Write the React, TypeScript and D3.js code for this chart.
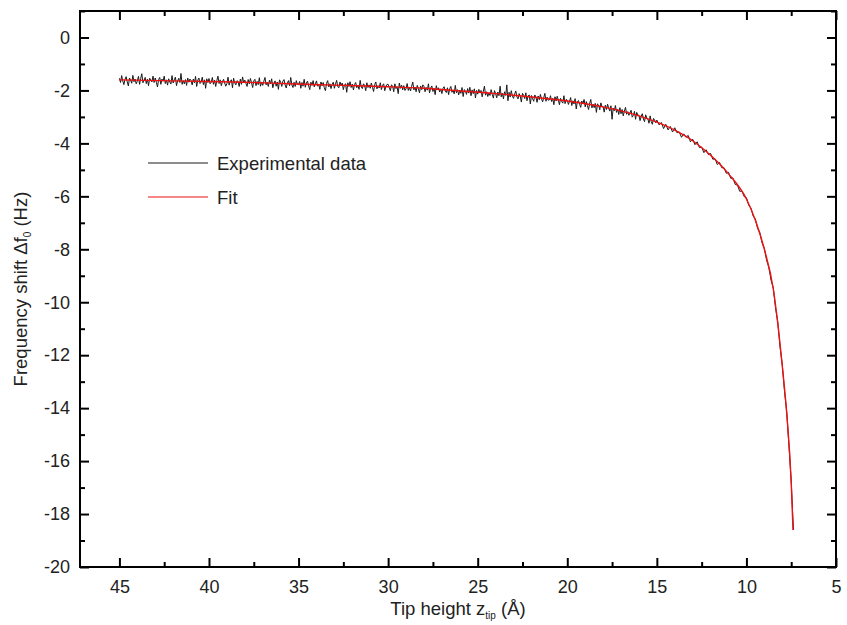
import React, { useEffect, useRef } from 'react';
import * as d3 from 'd3';

// Experimental data, first part sampled every 0.0625 Å from 45 Å down to 15.0625 Å
const expAStart = 45;
const expAStep = 0.0625;
const expAY = [
  -1.54, -1.70, -1.44, -1.64, -1.78, -1.58, -1.48, -1.68, -1.83, -1.53, -1.61, -1.73, -1.43, -1.67, -1.57, -1.75,
  -1.65, -1.47, -1.77, -1.55, -1.37, -1.71, -1.63, -1.51, -1.74, -1.58, -1.82, -1.54, -1.60, -1.68, -1.46, -1.70,
  -1.53, -1.69, -1.87, -1.59, -1.51, -1.77, -1.57, -1.65, -1.46, -1.74, -1.60, -1.80, -1.56, -1.68, -1.76, -1.44,
  -1.72, -1.60, -1.50, -1.82, -1.64, -1.54, -1.70, -1.36, -1.77, -1.63, -1.75, -1.59, -1.81, -1.53, -1.69, -1.57,
  -1.63, -1.79, -1.57, -1.71, -1.47, -1.85, -1.61, -1.53, -1.74, -1.68, -1.50, -1.78, -1.60, -1.92, -1.56, -1.70,
  -1.55, -1.75, -1.69, -1.51, -1.77, -1.61, -1.85, -1.63, -1.46, -1.74, -1.60, -1.82, -1.68, -1.58, -1.72, -1.84,
  -1.74, -1.50, -1.80, -1.64, -1.60, -1.90, -1.54, -1.72, -1.79, -1.63, -1.67, -1.85, -1.57, -1.77, -1.49, -1.71,
  -1.61, -1.73, -1.85, -1.59, -1.75, -1.55, -1.71, -1.89, -1.64, -1.58, -1.82, -1.66, -1.78, -1.52, -1.84, -1.68,
  -1.81, -1.65, -1.51, -1.79, -1.69, -1.85, -1.61, -1.75, -1.56, -1.90, -1.74, -1.64, -1.84, -1.68, -1.96, -1.60,
  -1.69, -1.85, -1.65, -1.59, -1.79, -1.91, -1.71, -1.63, -1.83, -1.51, -1.79, -1.89, -1.69, -1.85, -1.63, -1.77,
  -1.78, -1.66, -1.92, -1.70, -1.84, -1.58, -1.88, -1.72, -1.65, -1.83, -1.97, -1.69, -1.81, -1.63, -1.87, -1.75,
  -1.64, -1.84, -1.76, -1.96, -1.68, -1.82, -1.70, -1.90, -2.01, -1.73, -1.63, -1.87, -1.75, -1.93, -1.77, -1.69,
  -1.92, -1.76, -1.62, -1.86, -1.90, -1.68, -1.82, -1.72, -1.97, -1.79, -1.75, -2.07, -1.71, -1.85, -1.67, -1.89,
  -1.76, -1.98, -1.78, -1.70, -1.90, -1.80, -1.96, -1.62, -1.87, -1.93, -1.75, -1.81, -2.01, -1.71, -1.89, -1.79,
  -1.92, -1.72, -1.88, -2.04, -1.78, -1.68, -1.94, -1.82, -1.91, -1.71, -1.97, -1.81, -1.75, -2.01, -1.85, -1.77,
  -1.77, -1.89, -2.01, -1.79, -1.83, -2.05, -1.75, -1.93, -1.86, -2.12, -1.72, -1.92, -1.80, -1.98, -1.82, -2.00,
  -1.94, -1.74, -2.00, -1.88, -2.02, -1.84, -1.68, -1.98, -1.87, -2.05, -1.81, -1.93, -2.09, -1.83, -1.97, -1.79,
  -1.85, -2.05, -1.89, -1.99, -1.75, -2.09, -1.91, -1.83, -2.04, -1.92, -2.16, -1.82, -1.98, -1.90, -2.06, -1.94,
  -2.12, -1.92, -1.86, -2.02, -2.08, -1.90, -2.16, -1.94, -1.85, -2.07, -1.99, -2.13, -1.81, -2.09, -1.97, -2.17,
  -1.99, -2.11, -1.89, -2.23, -1.97, -2.01, -2.15, -1.93, -2.10, -1.88, -2.20, -1.98, -2.12, -1.94, -2.28, -2.00,
  -2.14, -1.96, -2.10, -2.00, -2.24, -2.04, -1.84, -2.18, -2.05, -2.23, -2.09, -2.19, -1.97, -2.15, -2.29, -2.01,
  -2.12, -2.28, -2.06, -2.20, -1.84, -2.24, -2.10, -2.32, -2.05, -2.19, -1.79, -2.39, -2.07, -2.25, -2.01, -2.21,
  -2.30, -2.14, -2.02, -2.24, -2.32, -2.12, -2.22, -2.44, -2.11, -2.19, -2.31, -2.09, -2.39, -2.21, -2.17, -2.51,
  -2.19, -2.31, -2.41, -2.17, -2.25, -2.45, -2.21, -2.35, -2.15, -2.33, -2.43, -2.27, -2.11, -2.41, -2.25, -2.37,
  -2.36, -2.20, -2.42, -2.30, -2.54, -2.24, -2.40, -2.22, -2.36, -2.54, -2.30, -2.42, -2.48, -2.20, -2.50, -2.34,
  -2.37, -2.53, -2.41, -2.27, -2.57, -2.39, -2.51, -2.31, -2.70, -2.42, -2.38, -2.52, -2.64, -2.40, -2.50, -2.34,
  -2.62, -2.42, -2.58, -2.72, -2.48, -2.34, -2.66, -2.52, -2.65, -2.49, -2.83, -2.51, -2.55, -2.73, -2.47, -2.61,
  -2.62, -2.82, -2.56, -2.72, -2.52, -2.68, -2.78, -2.58, -3.09, -2.67, -2.77, -2.57, -2.83, -2.71, -2.91, -2.65,
  -2.88, -2.72, -2.96, -2.78, -2.64, -2.90, -2.80, -2.94, -2.85, -2.75, -3.01, -2.95, -2.79, -3.09, -2.83, -2.93,
  -2.94, -3.14, -2.98, -2.88, -3.08, -3.18, -2.92, -3.04, -3.08, -3.24, -2.96, -3.18, -3.28, -3.06, -3.12, -3.22,
];

// Experimental data, second part sampled every 0.125 Å from 15 Å down
const expBStart = 15;
const expBStep = 0.125;
const expBY = [
  -3.12, -3.30, -3.21, -3.44, -3.28, -3.49, -3.36, -3.57,
  -3.41, -3.60, -3.57, -3.77, -3.64, -3.77, -3.70, -3.94,
  -3.84, -4.05, -3.94, -4.16, -4.14, -4.35, -4.24, -4.42,
  -4.38, -4.60, -4.58, -4.80, -4.72, -4.92, -4.92, -5.13,
  -5.09, -5.32, -5.31, -5.55, -5.58, -5.81, -5.80, -6.01,
  -6.05, -6.33, -6.44, -6.74, -6.86, -7.21, -7.38, -7.76,
  -7.96, -8.41, -8.68, -9.17, -9.46, -10.22, -10.75, -11.68,
  -12.35, -13.35, -14.15, -15.45, -16.75, -18.6,
];

// Fit curve
const fitX = [45, 42, 40, 38, 35.5, 33, 30, 28, 26, 24, 22, 20, 18, 17, 16, 15, 14, 13, 12, 11, 10, 9.5, 9, 8.5, 8.25, 8, 7.75, 7.5, 7.4];
const fitY = [-1.60, -1.64, -1.665, -1.69, -1.75, -1.80, -1.86, -1.92, -2.02, -2.12, -2.25, -2.40, -2.62, -2.77, -2.96, -3.20, -3.50, -3.90, -4.45, -5.15, -6.10, -6.90, -8.00, -9.50, -10.80, -12.40, -14.20, -16.80, -18.60];

const xMajor = [45, 40, 35, 30, 25, 20, 15, 10, 5];
const xMinor = [42.5, 37.5, 32.5, 27.5, 22.5, 17.5, 12.5, 7.5];
const yMajor = [0, -2, -4, -6, -8, -10, -12, -14, -16, -18, -20];
const yMinor = [1, -1, -3, -5, -7, -9, -11, -13, -15, -17, -19];

const legendItems = [
  { label: 'Experimental data', color: '#1a1a1a' },
  { label: 'Fit', color: '#ee1111' },
];

const FONT = '"Liberation Sans", Arial, sans-serif';

function Chart() {
  const svgRef = useRef<SVGSVGElement>(null);

  useEffect(() => {
    const root = d3.select(svgRef.current);
    root.selectAll('*').remove();

    const left = 80, right = 836, top = 11, bottom = 567;

    const x = d3.scaleLinear().domain([47.2, 5]).range([left, right]);
    const y = d3.scaleLinear().domain([-20, 1]).range([bottom, top]);

    const expData: [number, number][] = [
      ...expAY.map((v, i) => [expAStart - i * expAStep, v] as [number, number]),
      ...expBY.map((v, i) => [expBStart - i * expBStep, v] as [number, number]),
    ];
    const fitData = fitX.map((v, i) => [v, fitY[i]] as [number, number]);

    // data lines
    const line = d3.line<[number, number]>().x(d => x(d[0])).y(d => y(d[1]));

    root.append('path')
      .datum(expData)
      .attr('fill', 'none')
      .attr('stroke', '#1a1a1a')
      .attr('stroke-width', 1)
      .attr('d', line);

    root.append('path')
      .datum(fitData)
      .attr('fill', 'none')
      .attr('stroke', '#ee1111')
      .attr('stroke-width', 1.4)
      .attr('d', line.curve(d3.curveMonotoneX));

    // axes with inward ticks, mirrored on top and right
    const styleAxis = (g: d3.Selection<SVGGElement, unknown, null, undefined>) => {
      g.select('.domain').remove();
      g.selectAll('.tick line').attr('stroke', '#000').attr('stroke-width', 2);
      g.selectAll('.tick text')
        .attr('fill', '#222')
        .style('font-family', FONT)
        .style('font-size', '18px');
    };
    const fmt = (d: d3.NumberValue) => String(d);
    const blank = () => '';

    root.append('g')
      .attr('transform', `translate(0,${bottom})`)
      .call(d3.axisBottom(x).tickValues(xMajor).tickSizeInner(-9).tickSizeOuter(0).tickPadding(13).tickFormat(fmt))
      .call(styleAxis);
    root.append('g')
      .attr('transform', `translate(0,${bottom})`)
      .call(d3.axisBottom(x).tickValues(xMinor).tickSizeInner(-5).tickSizeOuter(0).tickFormat(blank))
      .call(styleAxis);
    root.append('g')
      .attr('transform', `translate(0,${top})`)
      .call(d3.axisTop(x).tickValues(xMajor).tickSizeInner(-9).tickSizeOuter(0).tickFormat(blank))
      .call(styleAxis);
    root.append('g')
      .attr('transform', `translate(0,${top})`)
      .call(d3.axisTop(x).tickValues(xMinor).tickSizeInner(-5).tickSizeOuter(0).tickFormat(blank))
      .call(styleAxis);

    root.append('g')
      .attr('transform', `translate(${left},0)`)
      .call(d3.axisLeft(y).tickValues(yMajor).tickSizeInner(-9).tickSizeOuter(0).tickPadding(10).tickFormat(fmt))
      .call(styleAxis);
    root.append('g')
      .attr('transform', `translate(${left},0)`)
      .call(d3.axisLeft(y).tickValues(yMinor).tickSizeInner(-5).tickSizeOuter(0).tickFormat(blank))
      .call(styleAxis);
    root.append('g')
      .attr('transform', `translate(${right},0)`)
      .call(d3.axisRight(y).tickValues(yMajor).tickSizeInner(-9).tickSizeOuter(0).tickFormat(blank))
      .call(styleAxis);
    root.append('g')
      .attr('transform', `translate(${right},0)`)
      .call(d3.axisRight(y).tickValues(yMinor).tickSizeInner(-5).tickSizeOuter(0).tickFormat(blank))
      .call(styleAxis);

    // frame
    root.append('rect')
      .attr('x', left).attr('y', top)
      .attr('width', right - left).attr('height', bottom - top)
      .attr('fill', 'none')
      .attr('stroke', '#000')
      .attr('stroke-width', 2);

    // legend
    const legend = root.append('g').attr('transform', 'translate(148,163)');
    legendItems.forEach((item, i) => {
      const g = legend.append('g').attr('transform', `translate(0,${i * 34})`);
      g.append('line')
        .attr('x1', 0).attr('x2', 60)
        .attr('stroke', item.color).attr('stroke-width', 1);
      g.append('text')
        .attr('x', 69).attr('y', 6.5)
        .attr('fill', '#222')
        .style('font-family', FONT)
        .style('font-size', '18.5px')
        .text(item.label);
    });

    // axis titles
    const xt = root.append('text')
      .attr('x', (left + right) / 2)
      .attr('y', 615)
      .attr('text-anchor', 'middle')
      .attr('fill', '#222')
      .style('font-family', FONT)
      .style('font-size', '18.5px');
    xt.append('tspan').text('Tip height z');
    xt.append('tspan').attr('dy', 4).style('font-size', '10px').text('tip');
    xt.append('tspan').attr('dy', -4).text(' (Å)');

    const yt = root.append('text')
      .attr('transform', `translate(27,${(top + bottom) / 2}) rotate(-90)`)
      .attr('text-anchor', 'middle')
      .attr('fill', '#222')
      .style('font-family', FONT)
      .style('font-size', '18.5px');
    yt.append('tspan').text('Frequency shift Δf');
    yt.append('tspan').attr('dy', 4).style('font-size', '10px').text('0');
    yt.append('tspan').attr('dy', -4).text(' (Hz)');
  }, []);

  return <svg ref={svgRef} width={847} height={625} style={{ display: 'block' }} />;
}

export default function App() {
  useEffect(() => {
    document.body.style.margin = '0';
  }, []);
  return <Chart />;
}
